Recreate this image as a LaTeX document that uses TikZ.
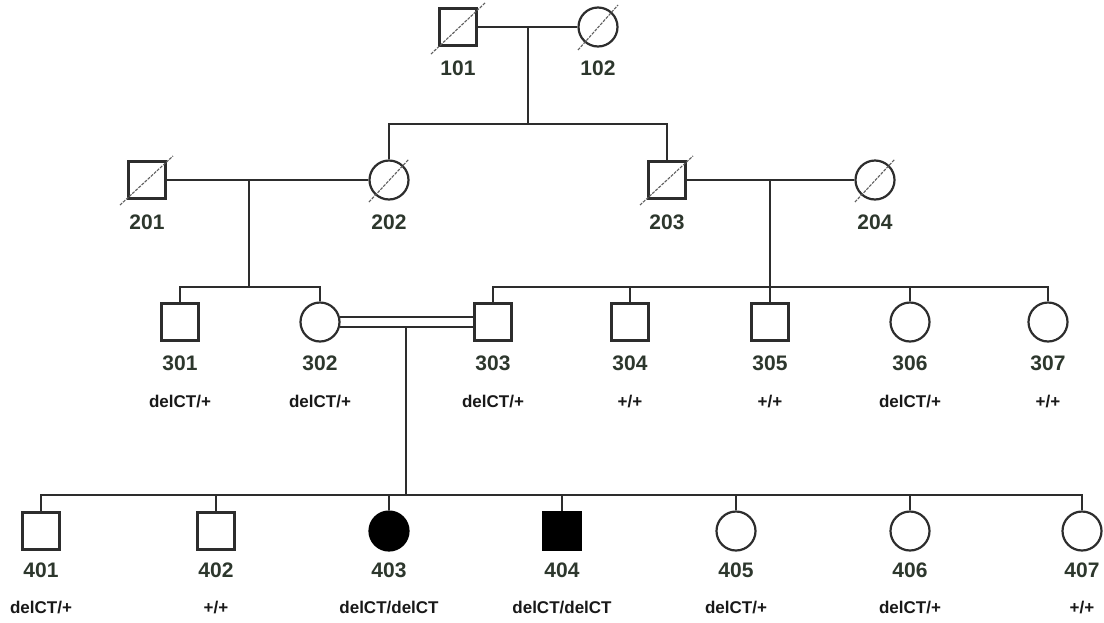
\documentclass[tikz,border=0pt]{standalone}
\usepackage{fontspec}
\setmainfont{Liberation Sans}
\usetikzlibrary{calc}
\definecolor{linecol}{RGB}{45,45,45}
\definecolor{numcol}{RGB}{45,55,45}
\definecolor{genocol}{RGB}{25,25,25}
\definecolor{deccol}{RGB}{95,95,95}
\begin{document}
\begin{tikzpicture}[x=1pt,y=-1pt,
  ln/.style={draw=linecol, line width=2.2pt},
  male/.style={draw=linecol, line width=2.2pt, rectangle, minimum size=37pt, inner sep=0pt, fill=white},
  female/.style={draw=linecol, line width=2.2pt, circle, minimum size=39pt, inner sep=0pt, fill=white},
  aff/.style={fill=black, draw=black},
  idlab/.style={font=\fontsize{21}{21}\selectfont\bfseries, text=numcol, inner sep=0pt},
  geno/.style={font=\fontsize{17}{17}\selectfont\bfseries, text=genocol, inner sep=0pt},
  dec/.style={draw=deccol, line width=1.1pt, dash pattern=on 3pt off 1.2pt}
]
\fill[white] (0,0) rectangle (1104,622);
\useasboundingbox (0,0) rectangle (1104,622);

% Generation I
\node[male] (n101) at (458,27) {};
\node[female] (n102) at (598,27) {};
\node[idlab] (l101) at (458,68) {101};
\node[idlab] (l102) at (598,68) {102};
\draw[dec] ($(n101.center)+(-27,27)$) -- ($(n101.center)+(27,-24)$);
\draw[dec] ($(n102.center)+(-20,23)$) -- ($(n102.center)+(20,-22)$);

% Generation II
\node[male] (n201) at (147,180) {};
\node[female] (n202) at (389,180) {};
\node[male] (n203) at (667,180) {};
\node[female] (n204) at (875,180) {};
\node[idlab] (l201) at (147,222) {201};
\node[idlab] (l202) at (389,222) {202};
\node[idlab] (l203) at (667,222) {203};
\node[idlab] (l204) at (875,222) {204};
\draw[dec] ($(n201.center)+(-27,25)$) -- ($(n201.center)+(26,-24)$);
\draw[dec] ($(n202.center)+(-20,22)$) -- ($(n202.center)+(20,-21)$);
\draw[dec] ($(n203.center)+(-27,25)$) -- ($(n203.center)+(26,-24)$);
\draw[dec] ($(n204.center)+(-20,22)$) -- ($(n204.center)+(20,-21)$);

% Generation III
\node[male] (n301) at (180,322) {};
\node[female] (n302) at (320,322) {};
\node[male] (n303) at (493,322) {};
\node[male] (n304) at (630,322) {};
\node[male] (n305) at (770,322) {};
\node[female] (n306) at (910,322) {};
\node[female] (n307) at (1048,322) {};
\node[idlab] (l301) at (180,363) {301};
\node[idlab] (l302) at (320,363) {302};
\node[idlab] (l303) at (493,363) {303};
\node[idlab] (l304) at (630,363) {304};
\node[idlab] (l305) at (770,363) {305};
\node[idlab] (l306) at (910,363) {306};
\node[idlab] (l307) at (1048,363) {307};
\node[geno] (g301) at (180,402) {delCT/+};
\node[geno] (g302) at (320,402) {delCT/+};
\node[geno] (g303) at (493,402) {delCT/+};
\node[geno] (g304) at (630,402) {+/+};
\node[geno] (g305) at (770,402) {+/+};
\node[geno] (g306) at (910,402) {delCT/+};
\node[geno] (g307) at (1048,402) {+/+};

% Generation IV
\node[male] (n401) at (41,531) {};
\node[male] (n402) at (216,531) {};
\node[female, aff] (n403) at (389,531) {};
\node[male, aff] (n404) at (562,531) {};
\node[female] (n405) at (736,531) {};
\node[female] (n406) at (910,531) {};
\node[female] (n407) at (1082,531) {};
\node[idlab] (l401) at (41,570) {401};
\node[idlab] (l402) at (216,570) {402};
\node[idlab] (l403) at (389,570) {403};
\node[idlab] (l404) at (562,570) {404};
\node[idlab] (l405) at (736,570) {405};
\node[idlab] (l406) at (910,570) {406};
\node[idlab] (l407) at (1082,570) {407};
\node[geno] (g401) at (41,608) {delCT/+};
\node[geno] (g402) at (216,608) {+/+};
\node[geno] (g403) at (389,608) {delCT/delCT};
\node[geno] (g404) at (562,608) {delCT/delCT};
\node[geno] (g405) at (736,608) {delCT/+};
\node[geno] (g406) at (910,608) {delCT/+};
\node[geno] (g407) at (1082,608) {+/+};

% Connectors: generation I
\coordinate (m1) at (528,27);
\coordinate (s1) at (528,124);
\draw[ln] (n101.east) -- (n102.west);
\draw[ln] (m1) -- (s1);
\draw[ln] (n202.north) |- (s1) -| (n203.north);

% Connectors: generation II
\coordinate (m2a) at (249,180);
\coordinate (s2a) at (249,287);
\draw[ln] (n201.east) -- (n202.west);
\draw[ln] (m2a) -- (s2a);
\draw[ln] (n301.north) |- (s2a) -| (n302.north);

\coordinate (m2b) at (770,180);
\coordinate (s2b) at (770,287);
\draw[ln] (n203.east) -- (n204.west);
\draw[ln] (m2b) -- (n305.north);
\draw[ln] (n303.north) |- (s2b) -| (n307.north);
\draw[ln] (n304.north) -- (n304.north |- s2b);
\draw[ln] (n306.north) -- (n306.north |- s2b);

% Consanguineous marriage 302 = 303
\draw[ln] (n302.15) -- (n303.west |- n302.15);
\draw[ln] (n302.-15) -- (n303.west |- n302.-15);
\coordinate (m3) at (406,327);
\coordinate (s3) at (406,495);
\draw[ln] (m3) -- (s3);

% Generation IV sibship
\draw[ln] (n401.north) |- (s3) -| (n407.north);
\foreach \k in {402,403,404,405,406}{
  \draw[ln] (n\k.north) -- (n\k.north |- s3);
}
\end{tikzpicture}
\end{document}
